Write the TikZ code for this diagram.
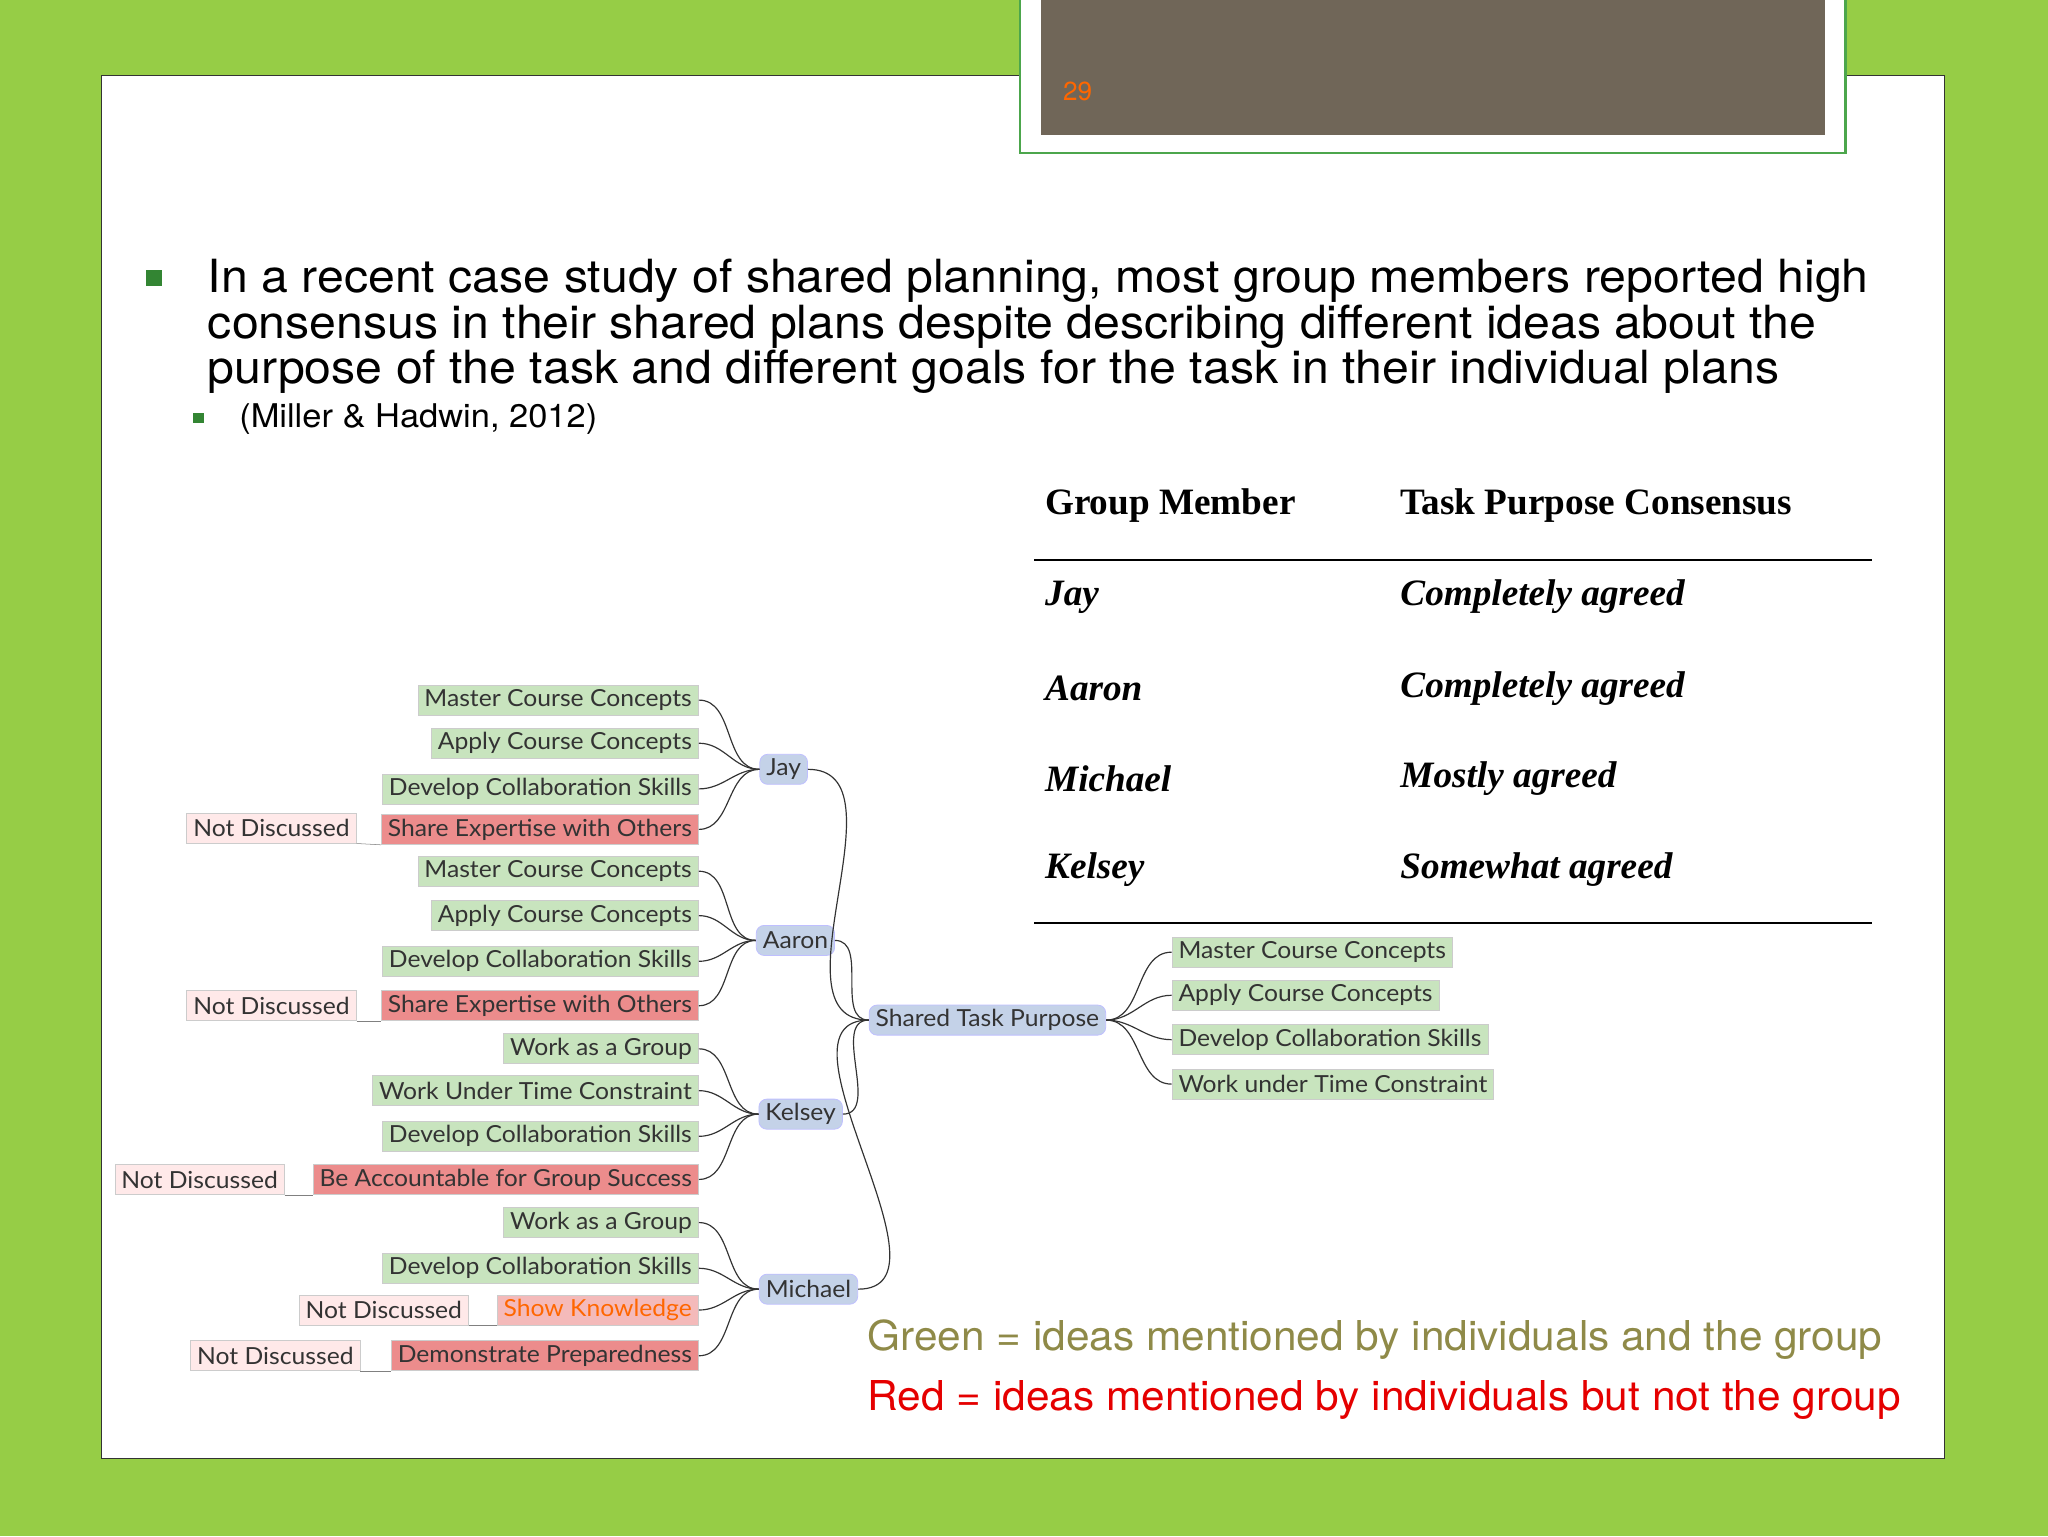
\documentclass[tikz,border=0pt]{standalone}
\usepackage{fontspec}
\setmainfont{TeX Gyre Heros}
\newfontfamily\bodyf[FakeStretch=1.055]{TeX Gyre Heros}
\newfontfamily\legf[FakeStretch=1.03]{TeX Gyre Heros}
\newfontfamily\serf{Liberation Serif}
\newfontfamily\mm[FakeStretch=1.05]{Lato}
\definecolor{bg}{RGB}{150,205,70}
\definecolor{boxc}{RGB}{112,102,88}
\definecolor{gfill}{RGB}{200,228,190}
\definecolor{rfill}{RGB}{236,140,140}
\definecolor{bfill}{RGB}{196,210,232}
\begin{document}
\begin{tikzpicture}[x=1pt,y=-1pt,
 base/.style={font=\mm\fontsize{18}{20}\selectfont, inner xsep=5pt, inner ysep=2pt, minimum height=23pt, draw=black!20, line width=0.6pt},
 gn/.style={base, fill=gfill, text=black!80, anchor=east},
 rn/.style={base, fill=rfill, text=black!80, anchor=east},
 nd/.style={base, fill=pink!35, text=black!80, anchor=east},
 mb/.style={base, fill=bfill, draw=blue!25, rounded corners=6pt, text=black!80},
 gr/.style={base, fill=gfill, text=black!80, anchor=west},
 cn/.style={line width=0.9pt, black!80}]
\useasboundingbox (0,0) rectangle (1568,1176);
\fill[bg] (0,0) rectangle (1568,1176);
\fill[white] (78,58) rectangle (1489,1117);
\draw[black!80, line width=0.8pt] (78,58) rectangle (1489,1117);
\fill[white] (781,0) rectangle (1413,117);
\draw[green!50!black!70, line width=2pt] (781,-2) rectangle (1413,117);
\fill[boxc] (797,0) rectangle (1397,103);
\node[text=orange!80!red, font=\fontsize{20}{22}\selectfont] (pg) at (825,70) {29};
% bullets
\fill[green!40!black!80] (112,207) rectangle (124,219);
\node[anchor=north west, align=left, inner sep=0pt, font=\bodyf\fontsize{35}{35}\selectfont] (bt) at (159,198) {In a recent case study of shared planning, most group members reported high\\consensus in their shared plans despite describing different ideas about the\\purpose of the task and different goals for the task in their individual plans};
\fill[green!40!black!80] (148,316) rectangle (156,324);
\node[anchor=west, inner sep=0pt, font=\bodyf\fontsize{25}{27}\selectfont] (cit) at (183,321) {(Miller \& Hadwin, 2012)};
% table
\begin{scope}[every node/.style={anchor=west, inner sep=0pt, font=\serf\fontsize{28.5}{30}\selectfont\bfseries}]
\node (h1) at (800,387) {Group Member};
\node (h2) at (1072,387) {Task Purpose Consensus};
\node (a1) at (800,457) {\itshape Jay}; \node (b1) at (1072,457) {\itshape Completely agreed};
\node (a2) at (800,527) {\itshape Aaron}; \node (b2) at (1072,527) {\itshape Completely agreed};
\node (a3) at (800,596) {\itshape Michael}; \node (b3) at (1072,596) {\itshape Mostly agreed};
\node (a4) at (800,666) {\itshape Kelsey}; \node (b4) at (1072,666) {\itshape Somewhat agreed};
\end{scope}
\draw[line width=1.5pt] (792,429) -- (1433,429);
\draw[line width=1.5pt] (792,707) -- (1433,707);
% mind map
\node[mb] (jay) at (600,589) {Jay};
\node[mb] (aaron) at (609,720) {Aaron};
\node[mb] (kelsey) at (613,853) {Kelsey};
\node[mb] (michael) at (619,987) {Michael};
\node[mb] (stp) at (756,781) {Shared Task Purpose};
\node[gn] (j1) at (535,536) {Master Course Concepts};
\node[gn] (j2) at (535,569) {Apply Course Concepts};
\node[gn] (j3) at (535,604) {Develop Collaboration Skills};
\node[rn] (j4) at (535,635) {Share Expertise with Others};
\node[nd] (jn) at (273,634) {Not Discussed};
\node[gn] (a1m) at (535,667) {Master Course Concepts};
\node[gn] (a2m) at (535,701) {Apply Course Concepts};
\node[gn] (a3m) at (535,736) {Develop Collaboration Skills};
\node[rn] (a4m) at (535,770) {Share Expertise with Others};
\node[nd] (an) at (273,770) {Not Discussed};
\node[gn] (k1) at (535,803) {Work as a Group};
\node[gn] (k2) at (535,835) {Work Under Time Constraint};
\node[gn] (k3) at (535,870) {Develop Collaboration Skills};
\node[rn] (k4) at (535,903) {Be Accountable for Group Success};
\node[nd] (kn) at (218,903) {Not Discussed};
\node[gn] (m1) at (535,936) {Work as a Group};
\node[gn] (m2) at (535,971) {Develop Collaboration Skills};
\node[rn, fill=rfill!60, text=orange!80!red] (m3) at (535,1003) {Show Knowledge};
\node[nd] (mn3) at (359,1003) {Not Discussed};
\node[rn] (m4) at (535,1038) {Demonstrate Preparedness};
\node[nd] (mn4) at (276,1038) {Not Discussed};
\node[gr] (s1) at (897,729) {Master Course Concepts};
\node[gr] (s2) at (897,762) {Apply Course Concepts};
\node[gr] (s3) at (897,796) {Develop Collaboration Skills};
\node[gr] (s4) at (897,830) {Work under Time Constraint};
\foreach \c/\p in {j1/jay,j2/jay,j3/jay,j4/jay,a1m/aaron,a2m/aaron,a3m/aaron,a4m/aaron,k1/kelsey,k2/kelsey,k3/kelsey,k4/kelsey,m1/michael,m2/michael,m3/michael,m4/michael}
  \draw[cn] (\c.east) to[out=0,in=180] (\p.west);
\foreach \p in {jay,aaron,kelsey,michael}
  \draw[cn] (\p.east) to[out=0,in=180] (stp.west);
\foreach \s in {s1,s2,s3,s4}
  \draw[cn] (stp.east) to[out=0,in=180] (\s.west);
\foreach \a/\b in {jn/j4,an/a4m,kn/k4,mn3/m3,mn4/m4}
  \draw[black!50] (\a.south east) -- (\b.south west);
% legend
\node[anchor=west, inner sep=0pt, text=olive!50!gray, font=\legf\fontsize{31.5}{33}\selectfont] (lg) at (664,1026) {Green = ideas mentioned by individuals and the group};
\node[anchor=west, inner sep=0pt, text=red!90!black, font=\legf\fontsize{31.5}{33}\selectfont] (lr) at (664,1072) {Red = ideas mentioned by individuals but not the group};
\end{tikzpicture}
\end{document}
